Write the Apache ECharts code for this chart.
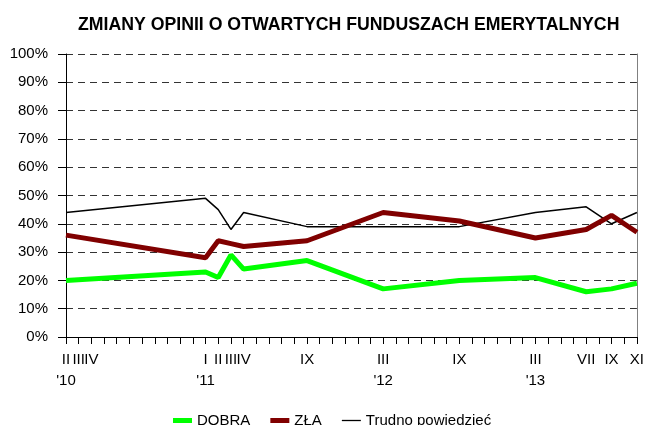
<!DOCTYPE html>
<html>
<head>
<meta charset="utf-8">
<script src="https://cdn.jsdelivr.net/npm/echarts@6/dist/echarts.min.js"></script>
<style>
  html, body { margin: 0; padding: 0; background: #fff; }
  #root { width: 647px; height: 425px; }
</style>
</head>
<body>
<div id="root"></div>
<script>
// months of the surveys
const surveyMonths = ['2010-02', '2011-01', '2011-02', '2011-03', '2011-04', '2011-09',
  '2012-03', '2012-09', '2013-03', '2013-07', '2013-09', '2013-11']
const dobra = [20, 23, 21, 29, 24, 27, 17, 20, 21, 16, 17, 19]
const zla = [36, 28, 34, 33, 32, 34, 44, 41, 35, 38, 43, 37]
const trudno = [44, 49, 45, 38, 44, 39, 39, 39, 44, 46, 40, 44]

// labels shown under the x axis
const labelMonths = ['2010-02', '2010-03', '2010-04', '2011-01', '2011-02', '2011-03', '2011-04',
  '2011-09', '2012-03', '2012-09', '2013-03', '2013-07', '2013-09', '2013-11']
const labelTexts = ["II\n'10", 'III', 'IV', "I\n'11", 'II', 'III', 'IV',
  'IX', "III\n'12", 'IX', "III\n'13", 'VII', 'IX', 'XI']

const yTicks = [0, 10, 20, 30, 40, 50, 60, 70, 80, 90, 100]

// every month from II 2010 to XI 2013
const months = []
for (let y = 2010; y <= 2013; y++) {
  for (let m = 1; m <= 12; m++) {
    const key = y + '-' + String(m).padStart(2, '0')
    if (key >= '2010-02' && key <= '2013-11') months.push(key)
  }
}

function toSeries (values) {
  return months.map(mo => {
    const i = surveyMonths.indexOf(mo)
    return i >= 0 ? values[i] : null
  })
}

const font = '"Liberation Sans", Arial, sans-serif'
const chart = echarts.init(document.getElementById('root'), null, { renderer: 'canvas' })

const option = {
  animation: false,
  title: {
    text: 'ZMIANY OPINII O OTWARTYCH FUNDUSZACH EMERYTALNYCH',
    left: 73,
    top: 11,
    textStyle: { fontFamily: font, fontSize: 17.7, fontWeight: 'bold', color: '#000' }
  },
  legend: {
    bottom: -8,
    left: 168,
    itemWidth: 19,
    itemHeight: 10,
    itemGap: 20,
    textStyle: { fontFamily: font, fontSize: 15, color: '#000' },
    data: [
      { name: 'DOBRA', icon: 'path://M0,0H19V5H0Z' },
      { name: 'ZŁA', icon: 'path://M0,0H19V5H0Z' },
      { name: 'Trudno powiedzieć', icon: 'path://M0,0H19V1.3H0Z' }
    ]
  },
  grid: { left: 66, right: 8, top: 54, bottom: 88, containLabel: false },
  xAxis: [{
    type: 'category',
    data: months,
    boundaryGap: false,
    axisLine: { lineStyle: { color: '#000', width: 1 } },
    axisTick: { show: true, interval: 0, length: 7, lineStyle: { color: '#000' } },
    axisLabel: {
      interval: 0,
      margin: 12,
      fontFamily: font,
      fontSize: 15,
      lineHeight: 21,
      color: '#000',
      formatter: v => {
        const i = labelMonths.indexOf(v)
        return i >= 0 ? labelTexts[i] : ''
      }
    },
    splitLine: { show: false }
  }, {
    type: 'category',
    data: months,
    position: 'top',
    boundaryGap: false,
    axisLine: { lineStyle: { color: '#000', width: 1 } },
    axisTick: { show: false },
    axisLabel: { show: false }
  }],
  yAxis: [{
    type: 'value',
    min: 0,
    max: 100,
    interval: 10,
    axisLine: { show: true, lineStyle: { color: '#000' } },
    axisTick: { show: true, length: 8, lineStyle: { color: '#000' } },
    axisLabel: {
      margin: 18,
      fontFamily: font,
      fontSize: 15,
      color: '#000',
      formatter: v => yTicks.includes(v) ? v + '%' : ''
    },
    splitLine: { show: true, lineStyle: { color: '#333', type: [7, 5], width: 1 } }
  }, {
    type: 'value',
    min: 0,
    max: 100,
    position: 'right',
    axisLine: { show: true, lineStyle: { color: '#808080' } },
    axisTick: { show: false },
    axisLabel: { show: false },
    splitLine: { show: false }
  }],
  series: [
    {
      name: 'DOBRA',
      type: 'line',
      data: toSeries(dobra),
      connectNulls: true,
      symbol: 'none',
      lineStyle: { color: '#00ff00', width: 5 },
      itemStyle: { color: '#00ff00' },
      z: 3
    },
    {
      name: 'ZŁA',
      type: 'line',
      data: toSeries(zla),
      connectNulls: true,
      symbol: 'none',
      lineStyle: { color: '#800000', width: 5 },
      itemStyle: { color: '#800000' },
      z: 3
    },
    {
      name: 'Trudno powiedzieć',
      type: 'line',
      data: toSeries(trudno),
      connectNulls: true,
      symbol: 'none',
      lineStyle: { color: '#000', width: 1.5 },
      itemStyle: { color: '#000' },
      z: 2
    }
  ]
}

chart.setOption(option)
</script>
</body>
</html>
